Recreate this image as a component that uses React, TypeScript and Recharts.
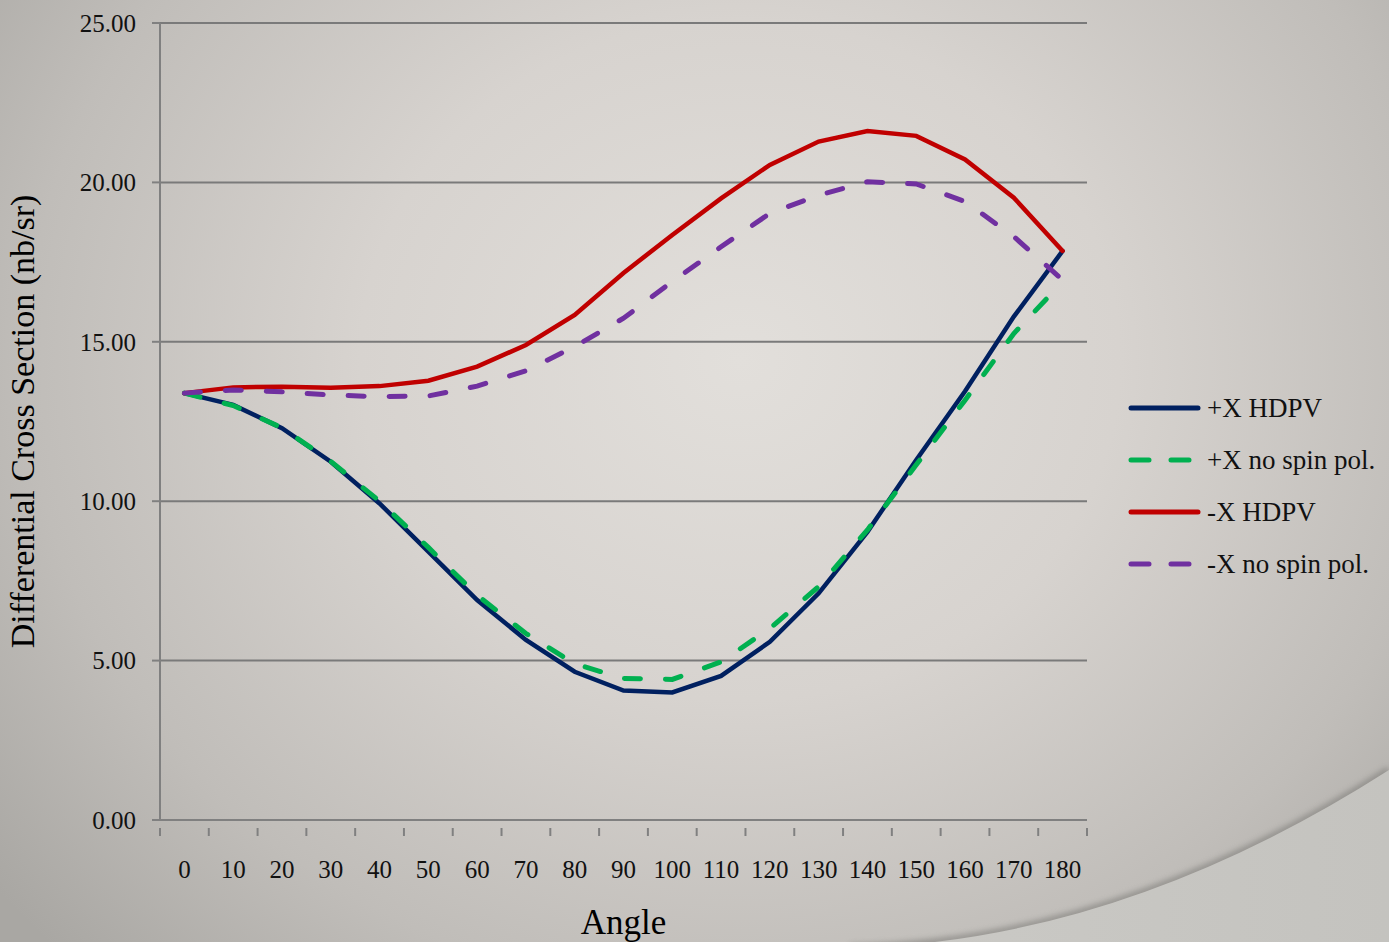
import React from 'react';
import { LineChart, Line, XAxis, YAxis, CartesianGrid } from 'recharts';

const angles = [0, 10, 20, 30, 40, 50, 60, 70, 80, 90, 100, 110, 120, 130, 140, 150, 160, 170, 180];
const plusXHdpv = [13.39, 13.02, 12.29, 11.24, 9.93, 8.42, 6.9, 5.65, 4.65, 4.06, 4.0, 4.52, 5.59, 7.11, 9.04, 11.29, 13.45, 15.79, 17.85];
const plusXNoSpin = [13.39, 13.0, 12.3, 11.25, 10.0, 8.55, 7.05, 5.85, 4.9, 4.44, 4.41, 4.96, 6.01, 7.32, 9.1, 11.14, 13.17, 15.26, 16.88];
const minusXHdpv = [13.39, 13.57, 13.59, 13.56, 13.61, 13.78, 14.22, 14.9, 15.84, 17.16, 18.35, 19.5, 20.55, 21.28, 21.61, 21.46, 20.72, 19.52, 17.85];
const minusXNoSpin = [13.39, 13.49, 13.43, 13.33, 13.28, 13.3, 13.61, 14.09, 14.85, 15.74, 16.89, 17.98, 19.03, 19.6, 20.02, 19.95, 19.4, 18.3, 16.94];
const yTicks = [0, 5, 10, 15, 20, 25];

const seriesInfo = [
  { key: 'plusXHdpv', name: '+X HDPV', color: '#002060', dashed: false },
  { key: 'plusXNoSpin', name: '+X no spin pol.', color: '#00B050', dashed: true },
  { key: 'minusXHdpv', name: '-X HDPV', color: '#C00000', dashed: false },
  { key: 'minusXNoSpin', name: '-X no spin pol.', color: '#7030A0', dashed: true },
];

const data = angles.map((a, i) => ({
  angle: a,
  plusXHdpv: plusXHdpv[i],
  plusXNoSpin: plusXNoSpin[i],
  minusXHdpv: minusXHdpv[i],
  minusXNoSpin: minusXNoSpin[i],
}));

const FONT = '"Liberation Serif", "DejaVu Serif", serif';
const HALF_BAND = 927 / angles.length / 2;

const XTick = (props: any) => {
  const { x, y, payload, index } = props;
  const last = index === angles.length - 1;
  return (
    <g>
      <line x1={x - HALF_BAND} x2={x - HALF_BAND} y1={y} y2={y + 8} stroke="#808080" strokeWidth={2} />
      {last && <line x1={x + HALF_BAND} x2={x + HALF_BAND} y1={y} y2={y + 8} stroke="#808080" strokeWidth={2} />}
      <text x={x} y={y + 50} textAnchor="middle" fontFamily={FONT} fontSize={25} fill="#111">
        {payload.value}
      </text>
    </g>
  );
};

const LegendBox = () => (
  <div style={{ position: 'absolute', left: 1128, top: 382, fontFamily: FONT, fontSize: 27, color: '#111' }}>
    {seriesInfo.map((s) => (
      <div key={s.key} style={{ display: 'flex', alignItems: 'center', height: 52, whiteSpace: 'nowrap' }}>
        <svg width={77} height={10} style={{ marginRight: 2 }}>
          {s.dashed ? (
            <line x1={3} x2={70} y1={5} y2={5} stroke={s.color} strokeWidth={5} strokeLinecap="round" strokeDasharray="18 22" />
          ) : (
            <line x1={3} x2={70} y1={5} y2={5} stroke={s.color} strokeWidth={5} strokeLinecap="round" />
          )}
        </svg>
        <span>{s.name}</span>
      </div>
    ))}
  </div>
);

export default function App() {
  return (
    <div
      style={{
        position: 'absolute',
        left: 0,
        top: 0,
        width: 1389,
        height: 942,
        overflow: 'hidden',
        background: 'radial-gradient(ellipse 950px 850px at 740px 360px, #e2dfdb 0%, #d7d3cf 40%, #c0bdb9 75%, #a9a7a3 100%)',
      }}
    >
      <svg width={1389} height={942} style={{ position: 'absolute', left: 0, top: 0 }}>
        <defs>
          <filter id="blur" x="-10%" y="-10%" width="120%" height="120%">
            <feGaussianBlur stdDeviation="3" />
          </filter>
          <linearGradient id="below" x1="0" y1="0" x2="1" y2="0">
            <stop offset="0" stopColor="#cbcac6" />
            <stop offset="1" stopColor="#c4c3bf" />
          </linearGradient>
        </defs>
        <path d="M 850 948 Q 1120 942 1389 770" fill="none" stroke="#7e7d79" strokeWidth={6} filter="url(#blur)" opacity={0.8} />
        <path d="M 850 948 Q 1120 942 1389 770 L 1389 948 Z" fill="url(#below)" />
      </svg>
      <div style={{ position: 'absolute', left: 0, top: 0 }}>
        <LineChart width={1389} height={942} data={data} margin={{ top: 23, right: 302, bottom: 0, left: 0 }}>
          <CartesianGrid vertical={false} stroke="#7a7a7a" strokeWidth={2} />
          <XAxis
            dataKey="angle"
            type="category"
            height={122}
            padding={{ left: HALF_BAND, right: HALF_BAND }}
            axisLine={{ stroke: '#808080', strokeWidth: 2 }}
            tickLine={false}
            tick={<XTick />}
            interval={0}
            label={{ value: 'Angle', position: 'insideBottom', offset: 8, fontFamily: FONT, fontSize: 35, fill: '#000' }}
          />
          <YAxis
            domain={[0, 25]}
            ticks={yTicks}
            width={160}
            axisLine={{ stroke: '#808080', strokeWidth: 2 }}
            tickLine={{ stroke: '#808080', strokeWidth: 2 }}
            tickSize={8}
            tickMargin={16}
            tickFormatter={(v: number) => v.toFixed(2)}
            tick={{ fontFamily: FONT, fontSize: 25, fill: '#111' }}
            label={{
              value: 'Differential Cross Section (nb/sr)',
              angle: -90,
              position: 'insideLeft',
              offset: 22,
              fontFamily: FONT,
              fontSize: 34,
              fill: '#000',
              style: { textAnchor: 'middle' },
            }}
          />
          {seriesInfo.map((s) => (
            <Line
              key={s.key}
              type="linear"
              dataKey={s.key}
              name={s.name}
              stroke={s.color}
              strokeWidth={s.dashed ? 5 : 4.5}
              strokeDasharray={s.dashed ? '16 25' : undefined}
              strokeLinecap="round"
              dot={false}
              activeDot={false}
              isAnimationActive={false}
            />
          ))}
        </LineChart>
      </div>
      <LegendBox />
    </div>
  );
}
